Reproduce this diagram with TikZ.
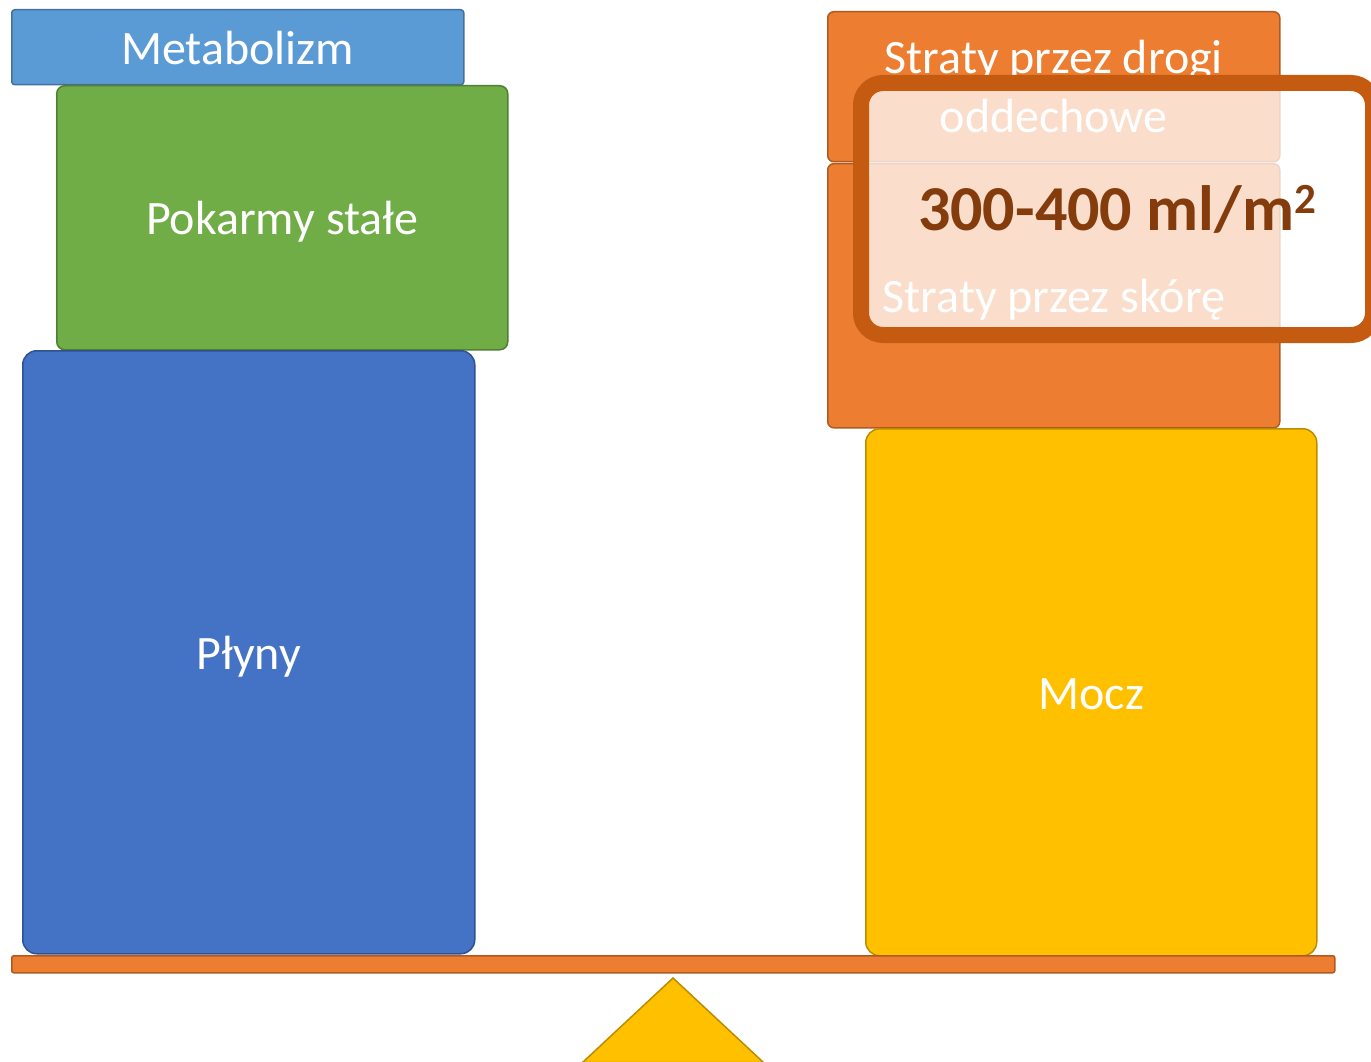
\documentclass[tikz,border=0pt]{standalone}
\usepackage{fontspec}
\setmainfont{Carlito}
\definecolor{metab}{HTML}{5B9BD5}\definecolor{metabd}{HTML}{41719C}
\definecolor{green1}{HTML}{70AD47}\definecolor{green1d}{HTML}{507E32}
\definecolor{blue1}{HTML}{4472C4}\definecolor{blue1d}{HTML}{2F528F}
\definecolor{orng}{HTML}{ED7D31}\definecolor{orngd}{HTML}{AE5A21}
\definecolor{gold}{HTML}{FFC000}\definecolor{goldd}{HTML}{BC8C00}
\definecolor{callb}{HTML}{C55A11}\definecolor{calltxt}{HTML}{843C0C}
\newcommand{\lowr}[1]{\raisebox{-4pt}[\height][\depth]{#1}}
\begin{document}
\begin{tikzpicture}[x=1pt,y=-1pt,
  box/.style={draw, line width=1.5pt, inner sep=0pt, anchor=north west, text=white,
    align=center, font=\fontsize{48}{59}\selectfont},
]
\useasboundingbox (0,0) rectangle (1371,1062);
\clip (0,0) rectangle (1371,1062);
% left pan
\node[box, fill=metab, draw=metabd, rounded corners=3pt, minimum width=452pt, minimum height=75pt] (metab) at (11,9) {\raisebox{-1pt}[\height][\depth]{Metabolizm}};
\node[box, fill=green1, draw=green1d, rounded corners=8pt, minimum width=451pt, minimum height=264pt] (pok) at (56,85) {\lowr{Pokarmy stałe}};
\node[box, fill=blue1, draw=blue1d, rounded corners=14pt, minimum width=452pt, minimum height=603pt] (plyny) at (22,350) {\lowr{Płyny}};
% right pan
\node[box, fill=orng, draw=orngd, rounded corners=6pt, minimum width=452pt, minimum height=150pt] (oddech) at (827,11) {Straty przez drogi\\oddechowe};
\node[box, fill=orng, draw=orngd, rounded corners=6pt, minimum width=452pt, minimum height=264pt] (skora) at (827,163) {\lowr{Straty przez skórę}};
\node[box, fill=gold, draw=goldd, rounded corners=14pt, minimum width=451pt, minimum height=527pt] (mocz) at (865,428) {\raisebox{-2pt}[\height][\depth]{Mocz}};
% beam and fulcrum
\node[box, fill=orng, draw=orngd, rounded corners=2pt, minimum width=1323pt, minimum height=17pt] (beam) at (11,955) {};
\draw[fill=gold, draw=goldd, line width=1.5pt] (673,978) -- (582.5,1062.5) -- (763.5,1062.5) -- cycle;
% callout
\node[draw=callb, line width=16pt, fill=white, fill opacity=0.75, text opacity=1,
  rounded corners=22pt, inner sep=0pt, minimum width=512pt, minimum height=252pt,
  text=calltxt, font=\fontsize{64}{70}\selectfont\bfseries] (call) at (1117,209) {300-400 ml/m\raisebox{17pt}{\fontsize{43}{43}\selectfont 2}};
\end{tikzpicture}
\end{document}
